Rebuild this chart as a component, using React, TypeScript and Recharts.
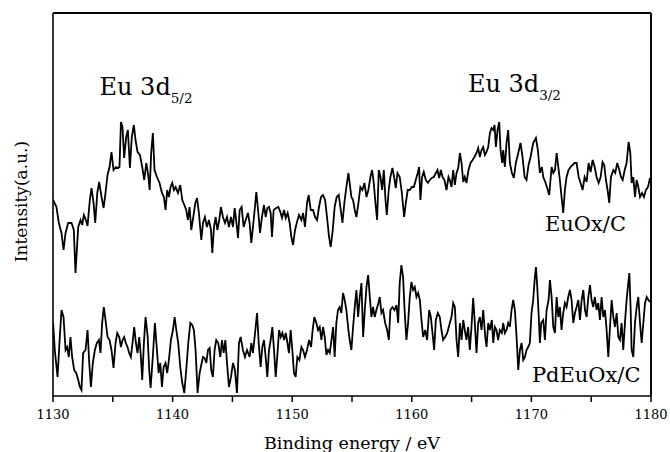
import { LineChart, Line, XAxis, YAxis, ReferenceDot, ReferenceLine, CartesianGrid } from "recharts";

const FONT = "'DejaVu Serif', 'Liberation Serif', serif";
const INK = "#000000";

const energyTicks = [1130, 1135, 1140, 1145, 1150, 1155, 1160, 1165, 1170, 1175, 1180];

// [binding energy (eV), intensity (a.u., offset per trace)]
type Pt = [number, number];

const euOxC: Pt[] = [
  [1130.01, 196], [1130.29, 189], [1130.49, 173], [1130.71, 163], [1130.88, 146], [1131.05, 163], [1131.27, 173], [1131.55, 173],
  [1131.74, 166], [1131.88, 123], [1132.11, 169], [1132.3, 176], [1132.44, 171], [1132.58, 181], [1132.75, 176], [1132.89, 170],
  [1133.08, 196], [1133.22, 208], [1133.39, 193], [1133.53, 173], [1133.7, 203], [1133.86, 214], [1134.06, 199], [1134.23, 188],
  [1134.39, 203], [1134.56, 221], [1134.73, 229], [1134.89, 244], [1135.06, 226], [1135.26, 229], [1135.45, 228], [1135.56, 229],
  [1135.68, 274], [1135.81, 269], [1135.95, 238], [1136.12, 259], [1136.26, 266], [1136.43, 228], [1136.59, 259], [1136.76, 271],
  [1136.9, 256], [1137.07, 244], [1137.27, 241], [1137.46, 229], [1137.63, 216], [1137.8, 233], [1137.96, 221],
  [1138.08, 206], [1138.21, 243], [1138.35, 263], [1138.49, 226], [1138.69, 219], [1138.91, 213], [1139.11, 203], [1139.27, 199],
  [1139.41, 186], [1139.55, 206], [1139.69, 199], [1139.83, 209], [1139.97, 213], [1140.11, 206], [1140.25, 209], [1140.45, 203],
  [1140.64, 211], [1140.81, 196], [1140.98, 191], [1141.14, 186], [1141.28, 176], [1141.42, 189], [1141.56, 166], [1141.73, 179],
  [1141.9, 193], [1142.04, 198], [1142.2, 183], [1142.4, 156], [1142.54, 173], [1142.7, 179], [1142.87, 169], [1143.04, 176],
  [1143.21, 166], [1143.32, 143], [1143.46, 169], [1143.6, 179], [1143.74, 166], [1143.9, 176], [1144.04, 189], [1144.21, 179],
  [1144.38, 173], [1144.55, 179], [1144.71, 169], [1144.88, 179], [1145.05, 169], [1145.19, 188], [1145.33, 174], [1145.47, 158],
  [1145.61, 186], [1145.77, 189], [1145.94, 169], [1146.11, 176], [1146.3, 183],
  [1146.44, 173], [1146.58, 153], [1146.72, 169], [1146.86, 186], [1147.0, 204], [1147.17, 183], [1147.31, 163], [1147.47, 179],
  [1147.64, 191], [1147.78, 179], [1147.92, 188], [1148.06, 189], [1148.2, 183], [1148.31, 159], [1148.45, 186], [1148.67, 188],
  [1148.84, 189], [1149.01, 184], [1149.15, 178], [1149.32, 186], [1149.46, 178], [1149.62, 183], [1149.79, 173], [1149.93, 159],
  [1150.07, 151], [1150.24, 166], [1150.4, 174], [1150.57, 181], [1150.77, 176], [1150.91, 183], [1151.07, 169], [1151.24, 193],
  [1151.38, 201], [1151.55, 186], [1151.74, 186], [1151.91, 179], [1152.08, 176], [1152.24, 189], [1152.41, 199], [1152.58, 201],
  [1152.75, 196], [1152.91, 179], [1153.08, 159], [1153.22, 149], [1153.39, 166], [1153.55, 189], [1153.72, 199], [1153.89, 201],
  [1154.06, 186], [1154.2, 173], [1154.36, 193], [1154.53, 209], [1154.7, 223],
  [1154.95, 199], [1155.09, 196], [1155.23, 186], [1155.37, 179], [1155.54, 193], [1155.7, 209], [1155.87, 206], [1156.04, 213],
  [1156.21, 199], [1156.37, 206], [1156.54, 219], [1156.68, 226], [1156.82, 213], [1156.96, 193], [1157.1, 176], [1157.24, 226],
  [1157.38, 219], [1157.52, 206], [1157.66, 226], [1157.8, 196], [1157.91, 181], [1158.07, 206], [1158.21, 219], [1158.38, 228],
  [1158.52, 219], [1158.66, 208], [1158.8, 223], [1158.99, 219], [1159.16, 204], [1159.36, 179], [1159.5, 193], [1159.66, 206],
  [1159.83, 206], [1160.0, 209], [1160.17, 209], [1160.33, 216], [1160.5, 223], [1160.61, 229], [1160.72, 196], [1160.86, 219],
  [1161.0, 224], [1161.17, 216], [1161.34, 213], [1161.51, 216], [1161.67, 218], [1161.84, 219], [1162.01, 223], [1162.15, 226],
  [1162.29, 218], [1162.43, 226], [1162.57, 219], [1162.73, 216], [1162.9, 206], [1163.07, 219],
  [1163.18, 216], [1163.32, 209], [1163.46, 226], [1163.6, 211], [1163.74, 223], [1163.88, 228], [1164.02, 243], [1164.16, 233],
  [1164.3, 214], [1164.43, 219], [1164.57, 213], [1164.74, 226], [1164.91, 233], [1165.08, 236], [1165.24, 239], [1165.41, 243],
  [1165.55, 248], [1165.69, 239], [1165.83, 246], [1165.97, 249], [1166.11, 241], [1166.25, 244], [1166.39, 249], [1166.53, 263],
  [1166.67, 268], [1166.81, 266], [1166.92, 271], [1167.03, 249], [1167.17, 266], [1167.31, 274], [1167.42, 246], [1167.56, 233],
  [1167.64, 246], [1167.78, 229], [1167.92, 253], [1168.06, 266], [1168.2, 233], [1168.37, 223], [1168.53, 218], [1168.7, 233],
  [1168.9, 243], [1169.09, 253], [1169.26, 239], [1169.43, 219], [1169.59, 216], [1169.76, 231], [1169.93, 239], [1170.15, 253],
  [1170.38, 258], [1170.54, 246], [1170.71, 223], [1170.88, 229], [1170.99, 219], [1171.16, 214], [1171.32, 208], [1171.49, 201],
  [1171.69, 229], [1171.83, 223], [1171.97, 226], [1172.11, 243], [1172.25, 229], [1172.38, 216], [1172.52, 199], [1172.66, 183],
  [1172.8, 206], [1172.94, 219], [1173.11, 226], [1173.28, 229], [1173.44, 231], [1173.61, 233], [1173.78, 233], [1173.95, 219],
  [1174.11, 213], [1174.28, 206], [1174.45, 219], [1174.62, 214], [1174.78, 233], [1174.95, 224], [1175.12, 236], [1175.29, 229],
  [1175.45, 219], [1175.62, 213], [1175.79, 219], [1175.95, 234], [1176.09, 231], [1176.23, 216], [1176.37, 206], [1176.51, 193],
  [1176.65, 219], [1176.85, 226], [1177.01, 223], [1177.18, 233], [1177.35, 226], [1177.49, 219], [1177.63, 216], [1177.8, 226],
  [1177.96, 233], [1178.13, 254], [1178.27, 243], [1178.38, 213], [1178.52, 219], [1178.66, 199], [1178.8, 216], [1178.94, 209],
  [1179.08, 199], [1179.25, 203], [1179.41, 199], [1179.58, 206], [1179.75, 209], [1179.92, 218],
];

const pdEuOxC: Pt[] = [
  [1130.01, 73], [1130.15, 46], [1130.38, 19], [1130.54, 53], [1130.71, 86], [1130.88, 79], [1131.05, 46], [1131.18, 49],
  [1131.32, 39], [1131.46, 59], [1131.6, 39], [1131.77, 26], [1131.94, 23], [1132.11, 16], [1132.25, 9], [1132.38, 6],
  [1132.52, 43], [1132.72, 46], [1132.89, 66], [1133.03, 33], [1133.17, 9], [1133.33, 33], [1133.5, 46], [1133.67, 53],
  [1133.84, 56], [1133.97, 43], [1134.11, 73], [1134.25, 89], [1134.39, 76], [1134.56, 59], [1134.73, 56], [1134.89, 46],
  [1135.06, 28], [1135.23, 53], [1135.37, 63], [1135.54, 59], [1135.68, 49], [1135.81, 56], [1135.95, 59], [1136.09, 53],
  [1136.23, 49], [1136.37, 43], [1136.51, 39], [1136.65, 53], [1136.79, 69], [1136.93, 53], [1137.07, 43], [1137.21, 59],
  [1137.35, 39], [1137.46, 16], [1137.6, 53], [1137.74, 79], [1137.91, 60], [1138.05, 25],
  [1138.16, 8], [1138.35, 40], [1138.52, 73], [1138.69, 46], [1138.83, 23], [1138.97, 33], [1139.11, 9], [1139.25, 29],
  [1139.41, 33], [1139.55, 23], [1139.69, 36], [1139.86, 56], [1140.03, 66], [1140.17, 79], [1140.31, 66], [1140.47, 53],
  [1140.64, 29], [1140.81, 13], [1140.98, 3], [1141.14, 26], [1141.31, 53], [1141.48, 73], [1141.64, 71], [1141.78, 66],
  [1141.92, 46], [1142.09, 3], [1142.26, 23], [1142.43, 33], [1142.54, 39], [1142.68, 38], [1142.82, 33], [1142.96, 46],
  [1143.1, 48], [1143.23, 26], [1143.37, 19], [1143.51, 46], [1143.65, 56], [1143.82, 53], [1143.99, 39], [1144.13, 56],
  [1144.27, 43], [1144.41, 56], [1144.55, 33], [1144.71, 9], [1144.88, 19], [1145.05, 33], [1145.21, 26], [1145.38, 3],
  [1145.55, 53], [1145.69, 59], [1145.88, 46], [1146.05, 39], [1146.22, 46],
  [1146.44, 39], [1146.58, 53], [1146.72, 43], [1146.86, 59], [1147.06, 83], [1147.2, 53], [1147.36, 29], [1147.5, 49],
  [1147.64, 56], [1147.78, 39], [1147.92, 19], [1148.06, 46], [1148.2, 56], [1148.34, 69], [1148.48, 46], [1148.62, 19],
  [1148.79, 46], [1148.9, 66], [1149.04, 59], [1149.18, 63], [1149.32, 56], [1149.46, 63], [1149.6, 53], [1149.73, 43],
  [1149.87, 66], [1150.01, 46], [1150.15, 23], [1150.29, 19], [1150.43, 39], [1150.6, 36], [1150.77, 49], [1150.91, 46],
  [1151.07, 39], [1151.24, 46], [1151.41, 56], [1151.58, 49], [1151.71, 66], [1151.85, 79], [1152.02, 73], [1152.16, 66],
  [1152.3, 69], [1152.44, 56], [1152.58, 69], [1152.72, 59], [1152.86, 41], [1153.0, 46], [1153.14, 43], [1153.28, 56],
  [1153.42, 69], [1153.55, 39], [1153.69, 73], [1153.83, 86], [1153.97, 89], [1154.11, 83], [1154.25, 103], [1154.39, 96],
  [1154.53, 86], [1154.7, 66],
  [1154.81, 56], [1154.95, 46], [1155.09, 69], [1155.23, 89], [1155.37, 106], [1155.51, 79], [1155.65, 99], [1155.79, 113],
  [1155.93, 59], [1156.07, 86], [1156.21, 109], [1156.35, 121], [1156.49, 99], [1156.62, 79], [1156.76, 89], [1156.9, 79],
  [1157.04, 86], [1157.21, 93], [1157.32, 99], [1157.46, 83], [1157.6, 86], [1157.77, 73], [1157.94, 66], [1158.08, 56],
  [1158.21, 86], [1158.38, 89], [1158.55, 86], [1158.72, 91], [1158.86, 73], [1158.99, 113], [1159.13, 131], [1159.27, 119],
  [1159.41, 83], [1159.55, 56], [1159.69, 73], [1159.83, 99], [1159.97, 114], [1160.11, 106], [1160.25, 109], [1160.39, 99],
  [1160.53, 103], [1160.67, 96], [1160.81, 76], [1160.95, 59], [1161.12, 66], [1161.28, 56], [1161.45, 86], [1161.59, 79],
  [1161.73, 63], [1161.87, 46], [1162.01, 76], [1162.18, 83], [1162.34, 79], [1162.48, 66], [1162.62, 56], [1162.79, 59],
  [1162.96, 63],
  [1163.18, 73], [1163.32, 79], [1163.46, 93], [1163.6, 89], [1163.74, 56], [1163.88, 39], [1164.02, 73], [1164.16, 56],
  [1164.3, 76], [1164.43, 66], [1164.57, 56], [1164.71, 69], [1164.85, 46], [1164.99, 69], [1165.13, 98], [1165.24, 79],
  [1165.41, 43], [1165.55, 73], [1165.69, 79], [1165.83, 66], [1165.97, 86], [1166.14, 59], [1166.25, 49], [1166.39, 73],
  [1166.53, 66], [1166.69, 76], [1166.81, 53], [1166.95, 69], [1167.08, 66], [1167.22, 56], [1167.36, 66], [1167.53, 63],
  [1167.64, 73], [1167.78, 63], [1167.92, 66], [1168.06, 73], [1168.2, 69], [1168.34, 86], [1168.48, 96], [1168.62, 86],
  [1168.76, 59], [1168.9, 26], [1169.04, 46], [1169.18, 53], [1169.32, 36], [1169.46, 39], [1169.59, 46], [1169.73, 49],
  [1169.87, 53], [1170.01, 83], [1170.15, 96], [1170.29, 119], [1170.38, 129], [1170.49, 109], [1170.6, 83], [1170.71, 53],
  [1170.82, 73], [1170.99, 76], [1171.13, 56], [1171.27, 86], [1171.44, 96],
  [1171.55, 116], [1171.69, 99], [1171.83, 69], [1171.97, 63], [1172.11, 99], [1172.25, 79], [1172.38, 89], [1172.52, 66],
  [1172.66, 83], [1172.8, 93], [1172.94, 89], [1173.08, 99], [1173.22, 106], [1173.36, 96], [1173.5, 73], [1173.64, 83],
  [1173.78, 89], [1173.92, 96], [1174.06, 76], [1174.2, 96], [1174.34, 106], [1174.48, 86], [1174.62, 79], [1174.76, 99],
  [1174.9, 111], [1175.03, 96], [1175.17, 89], [1175.31, 99], [1175.45, 86], [1175.59, 93], [1175.73, 76], [1175.87, 99],
  [1176.01, 79], [1176.15, 86], [1176.29, 66], [1176.43, 39], [1176.57, 69], [1176.71, 96], [1176.85, 79], [1176.99, 69],
  [1177.13, 83], [1177.27, 59], [1177.4, 56], [1177.54, 73], [1177.68, 46], [1177.82, 73], [1177.96, 96], [1178.1, 113],
  [1178.19, 123], [1178.3, 86], [1178.38, 46], [1178.52, 39], [1178.66, 73], [1178.8, 89], [1178.94, 99], [1179.08, 73],
  [1179.22, 53], [1179.36, 73], [1179.5, 93], [1179.64, 99], [1179.78, 96], [1179.92, 94],
];

const toRows = (pts: Pt[]) => pts.map(([e, i]) => ({ e, i }));

const peakLabel = (main: string, sub: string) => (p: any) => (
  <text x={p.cx} y={p.cy} fontFamily={FONT} fontSize={24} fill={INK}>
    {main}
    <tspan dy={8} fontSize={13.5}>{sub}</tspan>
  </text>
);

const traceLabel = (name: string) => (p: any) => (
  <text x={p.cx} y={p.cy} fontFamily={FONT} fontSize={21} fill={INK}>
    {name}
  </text>
);

const yTitle = (p: any) => {
  const cx = p.viewBox.x + 21;
  const cy = p.viewBox.y + p.viewBox.height / 2 - 3;
  return (
    <text
      x={cx}
      y={cy}
      transform={`rotate(-90 ${cx} ${cy})`}
      textAnchor="middle"
      dominantBaseline="central"
      fontFamily={FONT}
      fontSize={17}
      fill={INK}
    >
      Intensity(a.u.)
    </text>
  );
};

export default function App() {
  return (
    <div style={{ position: "absolute", left: 0, top: 0, background: "#fff" }}>
      <LineChart width={670} height={452} margin={{ top: 13, right: 19, bottom: 0, left: 0 }}>
        {/* right edge of the frame */}
        <CartesianGrid horizontal={false} verticalValues={[1180]} stroke={INK} strokeWidth={1.6} />
        <XAxis
          dataKey="e"
          type="number"
          domain={[1130, 1180]}
          ticks={energyTicks}
          interval={0}
          tickFormatter={(v: number) => (v % 10 === 0 ? String(v) : "")}
          tick={{ fontFamily: FONT, fontSize: 13, fill: INK }}
          tickLine={{ stroke: INK, strokeWidth: 1.5 }}
          axisLine={{ stroke: INK, strokeWidth: 1.6 }}
          tickSize={6}
          tickMargin={8}
          height={56}
          allowDataOverflow
          label={{ value: "Binding energy / eV", position: "insideBottom", offset: 3, fontFamily: FONT, fontSize: 17.5, fill: INK }}
        />
        <YAxis
          type="number"
          domain={[0, 383]}
          width={53}
          tick={false}
          tickLine={false}
          axisLine={{ stroke: INK, strokeWidth: 1.6 }}
          allowDataOverflow
          label={{ content: yTitle }}
        />
        {/* top and right edges of the frame */}
        <ReferenceLine y={383} stroke={INK} strokeWidth={2} ifOverflow="visible" />
        <ReferenceLine x={1180} stroke={INK} strokeWidth={1.6} ifOverflow="visible" />
        <Line data={toRows(euOxC)} dataKey="i" type="linear" stroke={INK} strokeWidth={1.8} dot={false} isAnimationActive={false} />
        <Line data={toRows(pdEuOxC)} dataKey="i" type="linear" stroke={INK} strokeWidth={1.8} dot={false} isAnimationActive={false} />
        <ReferenceDot x={1133.89} y={301} r={0} shape={peakLabel("Eu 3d", "5/2")} />
        <ReferenceDot x={1164.69} y={304} r={0} shape={peakLabel("Eu 3d", "3/2")} />
        <ReferenceDot x={1171.13} y={165} r={0} shape={traceLabel("EuOx/C")} />
        <ReferenceDot x={1170.04} y={14} r={0} shape={traceLabel("PdEuOx/C")} />
      </LineChart>
    </div>
  );
}
